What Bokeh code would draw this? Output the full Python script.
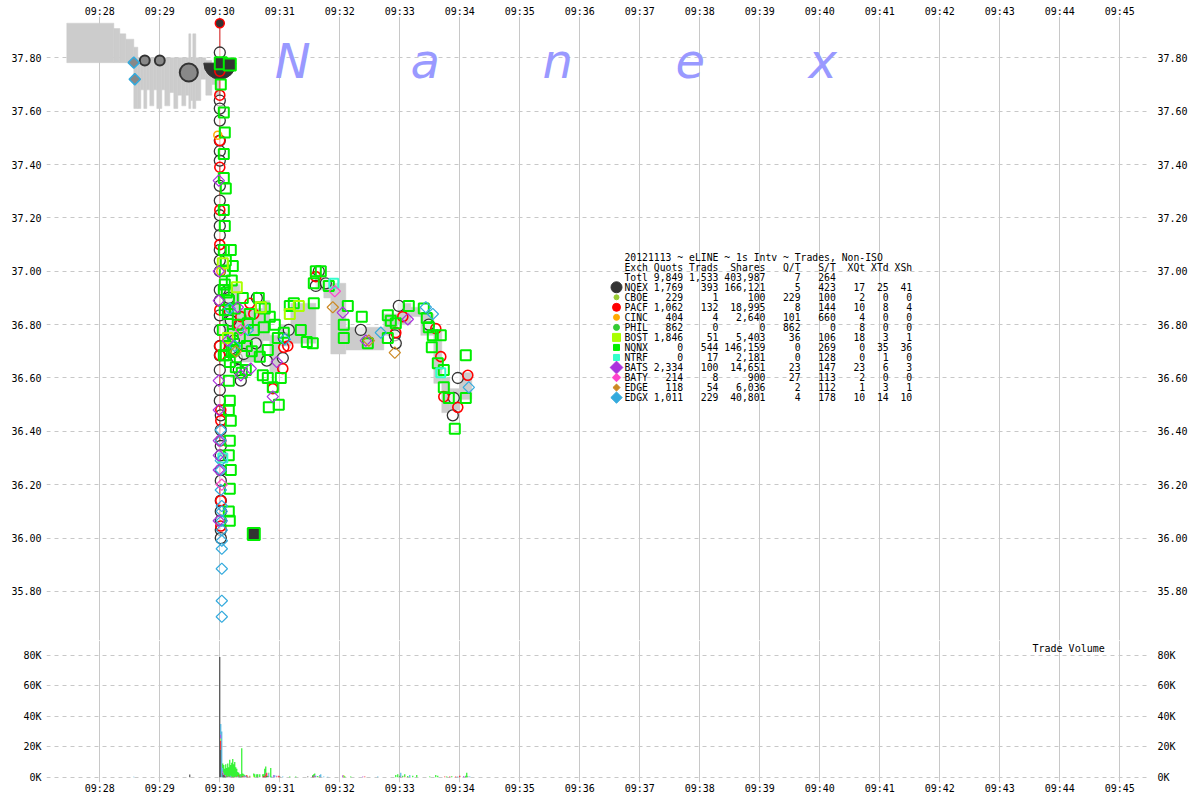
import numpy as np
from bokeh.plotting import figure
from bokeh.layouts import column
from bokeh.models import Range1d, FixedTicker, LinearAxis, Label, ColumnDataSource
from bokeh.core.properties import value
from bokeh.embed import file_html
from bokeh.resources import INLINE

# ---------------- axis ticks / labels ----------------
# x values: seconds relative to 09:30:00
minute_ticks = [-120, -60, 0, 60, 120, 180, 240, 300, 360, 420, 480, 540, 600, 660, 720, 780, 840, 900]
minute_labels = ["09:28", "09:29", "09:30", "09:31", "09:32", "09:33", "09:34", "09:35", "09:36",
                 "09:37", "09:38", "09:39", "09:40", "09:41", "09:42", "09:43", "09:44", "09:45"]
price_ticks = [35.8, 36.0, 36.2, 36.4, 36.6, 36.8, 37.0, 37.2, 37.4, 37.6, 37.8]
price_labels = ["35.80", "36.00", "36.20", "36.40", "36.60", "36.80", "37.00", "37.20", "37.40", "37.60", "37.80"]
vol_ticks = [0, 20000, 40000, 60000, 80000]
vol_labels = ["0K", "20K", "40K", "60K", "80K"]

# ---------------- NBBO spread (gray) ----------------
pre_t = [-153, -106, -100, -94, -86, -82, -79, -76, -73, -70, -66, -63, -58, -55, -50, -46, -42, -38, -34, -31,
         -29, -27, -24, -19, -14, -8, -4]
pre_bid = [37.782, 37.782, 37.782, 37.782, 37.61, 37.61, 37.68, 37.61, 37.68, 37.62, 37.68, 37.61, 37.68, 37.62,
           37.67, 37.61, 37.66, 37.62, 37.66, 37.61, 37.64, 37.61, 37.64, 37.72, 37.66, 37.70, 37.66]
pre_ask = [37.93, 37.91, 37.89, 37.87, 37.84, 37.80, 37.80, 37.80, 37.80, 37.80, 37.80, 37.80, 37.80, 37.80,
           37.80, 37.80, 37.80, 37.80, 37.80, 37.89, 37.80, 37.89, 37.80, 37.80, 37.79, 37.78, 37.78]
post_t = [3, 20, 43, 50, 60, 71, 96, 104, 111, 126, 164, 178, 191, 201, 214, 222, 230, 240]
post_bid = [36.70, 36.66, 36.74, 36.62, 36.72, 36.73, 36.93, 36.90, 36.69, 36.705, 36.76, 36.80, 36.83, 36.76,
            36.58, 36.47, 36.48, 36.52]
post_ask = [36.95, 36.86, 36.89, 36.76, 36.80, 36.88, 36.99, 36.97, 36.955, 36.79, 36.84, 36.88, 36.865, 36.84,
            36.78, 36.60, 36.56, 36.62]
post_end = 252

# ---------------- trades by exchange ----------------
nqex_t = [0, 0, 0, 0, 0, 0, 0, 0, 0, 0,
          0, 0, 0, 0, 0, 0, 0, 0, 0, 0,
          0, 0, 0, 0, 1, 1, 1, 1, 1, 1,
          1, 1, 1, 1, 1,
          9, 11, 14, 17, 19, 21, 24, 36, 37, 47,
          63, 64, 69, 96, 99, 106, 141, 175, 176, 179,
          209, 233, 234, 238]
nqex_p = [37.82, 37.64, 37.61, 37.565, 37.49, 37.45, 37.415, 37.32, 37.265, 37.21,
          37.17, 37.135, 37.08, 37.04, 37.00, 36.93, 36.89, 36.835, 36.78, 36.72,
          36.685, 36.63, 36.555, 36.515, 36.46, 36.405, 36.345, 36.31, 36.255, 36.215,
          36.14, 36.10, 36.065, 36.03, 36.00,
          36.90, 36.815, 36.74, 36.675, 36.63, 36.59, 36.69, 36.73, 36.90, 36.665,
          36.675, 36.75, 36.78, 36.945, 37.00, 36.955, 36.78, 36.76, 36.73, 36.87,
          36.80, 36.46, 36.525, 36.60]

pacf_t = [0, 0, 0, 0, 0, 0, 0, 0, 0, 1, 1, 1, 1, 1,
          19, 21, 30, 34, 53, 63, 64, 68, 96, 176, 183, 216, 221, 224, 238, 248]
pacf_p = [37.75, 37.66, 37.49, 37.39, 37.23, 37.10, 36.855, 36.72, 36.685, 36.48, 36.44, 36.365, 36.14, 36.045,
          36.80, 36.83, 36.88, 36.84, 36.56, 36.635, 36.715, 36.72, 36.98, 36.77, 36.83, 36.785, 36.68, 36.53,
          36.49, 36.61]

nqnx_t = [1, 4, 5, 4, 4, 6, 4, 5, 4, 6,
          5, 4, 5, 3, 6, 4, 9, 10, 9, 11,
          10, 9, 11, 10, 9, 10,
          8, 13, 14, 11, 13, 12, 9, 6, 28, 34,
          44, 48, 48, 53, 49, 41, 58, 61, 64, 81,
          93, 74, 26, 43, 59, 70, 87, 39, 96, 101,
          94, 109, 94, 128, 142, 124, 124, 148, 168, 171,
          168, 176, 189, 204, 207, 213, 221, 212, 218, 224,
          224, 229, 246, 246, 235, 209,
          5, 7, 10, 12, 15, 16, 18, 20, 22, 23, 27, 30, 32, 40, 45, 50, 55]
nqnx_p = [37.70, 37.595, 37.52, 37.44, 37.35, 37.31, 37.23, 37.17, 37.08, 37.04,
          37.00, 36.93, 36.855, 36.78, 36.72, 36.685, 36.59, 36.515, 36.48, 36.44,
          36.365, 36.31, 36.255, 36.185, 36.10, 36.065,
          36.84, 36.765, 36.705, 37.08, 37.02, 36.965, 36.89, 36.685, 36.805, 36.78,
          36.79, 36.705, 36.60, 36.565, 36.49, 36.865, 36.75, 36.60, 36.77, 36.78,
          36.73, 36.88, 36.63, 36.61, 36.50, 36.87, 36.735, 36.90, 37.00, 37.00,
          36.955, 36.945, 36.88, 36.87, 36.83, 36.80, 36.75, 36.73, 36.835, 36.815,
          36.75, 36.805, 36.87, 36.86, 36.825, 36.76, 36.76, 36.715, 36.655, 36.63,
          36.565, 36.525, 36.685, 36.525, 36.41, 36.79,
          36.95, 36.92, 36.66, 36.70, 36.86, 36.64, 36.80, 36.75, 36.62, 36.90, 36.72, 36.84, 36.70, 36.68,
          36.86, 36.83, 36.80]

bost_t = [3, 8, 17, 41, 70, 79]
bost_p = [37.03, 36.75, 36.94, 36.865, 36.84, 36.87]

edgx_t = [1, 1, 1, 1, 1, 2, 2, 2, 2, 2, 2, 2, 2, 2, 206, 213, 161, 249, 15, 65, 10, 28]
edgx_p = [36.405, 36.365, 36.29, 36.255, 36.18, 36.12, 36.10, 36.065, 36.03, 35.99, 35.96, 35.885, 35.765,
          35.705, 36.865, 36.84, 36.77, 36.565, 36.72, 36.745, 36.86, 36.78]

bats_t = [-1, -1, -1, -1, -1, -1, -1, -1, -1, 123, 188, 146, 31, 53, 21, 8, 57, 18]
bats_p = [37.34, 37.00, 36.89, 36.59, 36.48, 36.365, 36.31, 36.255, 36.065, 36.845, 36.82, 36.74, 36.635,
          36.53, 36.61, 36.74, 36.66, 36.865]

baty_t = [115, 21, 2]
baty_p = [36.925, 36.78, 36.20]
edge_t = [113, 149, 175, 16]
edge_p = [36.865, 36.74, 36.695, 36.70]
ntrf_t = [114, 221, 3]
ntrf_p = [36.955, 36.62, 36.30]
cinc_t = [-2, 1]
cinc_p = [37.51, 37.00]

# pre-open / opening prints
nqex_pre_t = [-75, -60, -31]
nqex_pre_p = [37.79, 37.79, 37.745]
nqex_pre_shares = [100, 100, 1500]
edgx_pre_t = [-86, -85]
edgx_pre_p = [37.782, 37.72]
open_cross_t = [0]
open_cross_p = [37.78]
high_print_t = [0]
high_print_p = [37.93]
open_range = [37.93, 36.00]
nqnx_dark_t = [1, 10, 34]
nqnx_dark_p = [37.78, 37.775, 36.015]

# ---------------- volume by exchange (shares per second) ----------------
nqex_vt = [-30, 0, 1, 3, 4, 5, 6, 8, 10, 14, 17, 19, 21, 24, 27, 38, 44, 46, 47, 60, 88, 93, 96, 180, 248]
nqex_vv = [1800, 79000, 18000, 2000, 1500, 1000, 500, 500, 500, 500, 500, 500, 500, 500, 500, 500, 1000, 500,
           1000, 500, 500, 1000, 500, 500, 500]
pacf_vt = [1, 3, 5, 8, 12, 16, 19, 23, 25, 27, 28, 30, 43, 45, 46, 47, 57, 59, 94, 100, 145, 185, 225, 230, 236, 240]
pacf_vv = [6000, 1000, 500, 500, 500, 500, 1000, 1000, 500, 1000, 500, 500, 500, 1000, 1500, 2000, 500, 1000,
           500, 500, 500, 500, 500, 500, 500, 1000]
bost_vt = [1, 34, 124]
bost_vv = [1500, 1000, 1500]
bats_vt = [1, 3, 4, 6, 9, 21, 25, 46, 49, 54, 57, 95, 123, 143, 181, 244]
bats_vv = [2500, 1000, 500, 500, 500, 500, 500, 1000, 1000, 1500, 500, 1500, 1200, 500, 500, 800]
edgx_vt = [-86, 1, 2, 3, 4, 6, 11, 18, 24, 26, 49, 52, 55, 63, 96, 100, 101, 104, 108, 158, 181, 190, 238, 250]
edgx_vv = [300, 7000, 30000, 2000, 1000, 500, 1000, 500, 500, 1000, 1500, 500, 1200, 500, 500, 1000, 2000, 500,
           300, 400, 2500, 1500, 500, 500]
nqnx_vt = [3, 4, 5, 6, 7, 8, 9, 10, 11, 12, 13, 14, 15, 16, 17, 18, 19, 20, 21, 22, 23, 24, 25,
           30, 34, 35, 37, 38, 40, 43, 44, 45, 46, 48, 49, 51,
           70, 76, 93, 94, 95, 98, 125, 131,
           176, 178, 180, 183, 185, 188, 193, 197,
           210, 216, 218, 227, 232, 246, 247]
nqnx_vv = [3000, 5000, 4000, 7000, 6000, 8000, 6000, 11000, 7000, 9000, 12000, 8000, 10000, 6000, 5000, 3000,
           1500, 2000, 1000, 19000, 1500, 1000, 500,
           500, 1500, 2000, 2000, 1500, 2000, 1500, 1000, 4500, 4000, 1000, 500, 6000,
           400, 500, 500, 1500, 1000, 800, 600, 400,
           1500, 2000, 500, 1000, 1500, 800, 1000, 1500,
           500, 1500, 1000, 500, 700, 1000, 3000]

# ---------------- summary table ----------------
table_title = "20121113 ~ eLINE ~ 1s Intv ~ Trades, Non-ISO"
exch_names = ["NQEX", "CBOE", "PACF", "CINC", "PHIL", "BOST", "NQNX", "NTRF", "BATS", "BATY", "EDGE", "EDGX"]
exch_quots = [1769, 229, 1062, 404, 862, 1846, 0, 0, 2334, 214, 118, 1011]
exch_trads = [393, 1, 132, 4, 0, 51, 544, 17, 100, 8, 54, 229]
exch_shares = [166121, 100, 18995, 2640, 0, 5403, 146159, 2181, 14651, 900, 6036, 40801]
exch_qt = [5, 229, 8, 101, 862, 36, 0, 0, 23, 27, 2, 4]
exch_st = [423, 100, 144, 660, 0, 106, 269, 128, 147, 113, 112, 178]
exch_xqt = [17, 2, 10, 4, 8, 18, 0, 0, 23, 2, 1, 10]
exch_xtd = [25, 0, 8, 0, 0, 3, 35, 1, 6, 0, 3, 14]
exch_xsh = [41, 0, 4, 0, 0, 1, 36, 0, 3, 0, 1, 10]
total_row = [9849, 1533, 403987, 7, 264]

# ---------------- styles ----------------
FONT = "DejaVu Sans Mono"
GRID = "#c8c8c8"
C_NQEX, C_PACF, C_NQNX, C_BOST = "#333333", "#ff0000", "#00ee00", "#aaff00"
C_BATS, C_BATY, C_EDGE, C_EDGX = "#aa33dd", "#ff44cc", "#cc8822", "#33aadd"
C_NTRF, C_CINC, C_CBOE, C_PHIL = "#33ffcc", "#ffaa00", "#99cc33", "#33cc33"

W = 1192
xr = Range1d(-173.3, 930.7)


def style_axis(ax, ticks, labels, standoff):
    ax.ticker = FixedTicker(ticks=ticks)
    ax.major_label_overrides = dict(zip(ticks, labels))
    ax.axis_line_color = None
    ax.major_tick_line_color = None
    ax.minor_tick_line_color = None
    ax.major_tick_in = 0
    ax.major_tick_out = 0
    ax.major_label_standoff = standoff
    ax.major_label_text_font = FONT
    ax.major_label_text_font_size = "10px"
    ax.major_label_text_color = "black"


# ================= price panel =================
p1 = figure(width=W, height=640, x_range=xr, y_range=Range1d(35.616, 37.955),
            output_backend="svg", toolbar_location=None, x_axis_location="above",
            min_border_left=46, min_border_right=42, min_border_top=16, min_border_bottom=0,
            outline_line_color=None, background_fill_color="white", border_fill_color="white")
style_axis(p1.xaxis[0], minute_ticks, minute_labels, 0)
style_axis(p1.yaxis[0], price_ticks, price_labels, 5)
ax_r = LinearAxis()
style_axis(ax_r, price_ticks, price_labels, 7)
p1.add_layout(ax_r, "right")
p1.xgrid.grid_line_color = GRID
p1.ygrid.grid_line_color = GRID
p1.ygrid.grid_line_dash = "4 4"

# watermark
for i, ch in enumerate("Nanex"):
    p1.add_layout(Label(x=73 + 132.5 * i, y=37.79, text=ch, text_font="DejaVu Sans",
                        text_font_style="italic", text_font_size="48px", text_color="#9999ff",
                        text_align="center", text_baseline="alphabetic", level="underlay"))

# spread areas
pre_right = pre_t[1:] + [0]
p1.quad(left=pre_t, right=pre_right, bottom=pre_bid, top=pre_ask, fill_color="#cccccc",
        line_color="#cccccc", line_width=0.5)
post_right = post_t[1:] + [post_end]
p1.quad(left=post_t, right=post_right, bottom=post_bid, top=post_ask, fill_color="#cccccc",
        line_color="#cccccc", line_width=0.5)

# opening range line
p1.segment(x0=open_cross_t, y0=[open_range[0]], x1=open_cross_t, y1=[open_range[1]],
           line_color="#e06060", line_width=1.5)

# opening cross (half disc)
p1.wedge(x=open_cross_t, y=open_cross_p, radius=16, radius_units="screen",
         start_angle=np.pi, end_angle=2 * np.pi, direction="anticlock",
         fill_color=C_NQEX, line_color=C_NQEX)

# pre-open prints
pre_sizes = [7 + np.sqrt(s) / 3.5 for s in nqex_pre_shares]
p1.scatter(nqex_pre_t, nqex_pre_p, marker="circle", size=pre_sizes, fill_color="#888888",
           line_color=C_NQEX, line_width=2)
p1.scatter(edgx_pre_t, edgx_pre_p, marker="square", angle=np.pi / 4, size=8, fill_color="#888888",
           line_color=C_EDGX, line_width=1.5)

# trades
p1.scatter(nqex_t, nqex_p, marker="circle", size=11, fill_color="white", fill_alpha=0.6,
           line_color=C_NQEX, line_width=1.3)
p1.scatter(pacf_t, pacf_p, marker="circle", size=10, fill_color=None, line_color=C_PACF, line_width=1.6)
p1.scatter(cinc_t, cinc_p, marker="circle", size=8, fill_color=None, line_color=C_CINC, line_width=1.5)
p1.scatter(nqnx_t, nqnx_p, marker="square", size=10, fill_color=None, line_color=C_NQNX, line_width=2)
p1.scatter(bost_t, bost_p, marker="square", size=10, fill_color=None, line_color=C_BOST, line_width=2)
p1.scatter(ntrf_t, ntrf_p, marker="square", size=9, fill_color=None, line_color=C_NTRF, line_width=2)
for xs, ys, col in [(edgx_t, edgx_p, C_EDGX), (bats_t, bats_p, C_BATS), (baty_t, baty_p, C_BATY),
                    (edge_t, edge_p, C_EDGE)]:
    p1.scatter(xs, ys, marker="square", angle=np.pi / 4, size=8, fill_color=None, line_color=col,
               line_width=1.2)
p1.scatter(nqnx_dark_t, nqnx_dark_p, marker="square", size=12, fill_color=C_NQEX, line_color=C_NQNX,
           line_width=2)
p1.scatter(high_print_t, high_print_p, marker="circle", size=9, fill_color=C_NQEX, line_color=C_PACF,
           line_width=1.5)

# summary table text (non-breaking spaces keep the columns aligned in SVG)
lines = [table_title,
         "Exch Quots Trads  Shares   Q/T   S/T  XQt XTd XSh",
         f"Totl{total_row[0]:>6,}{total_row[1]:>6,}{total_row[2]:>8,}{total_row[3]:>6}{total_row[4]:>6}"]
for i in range(len(exch_names)):
    lines.append(f"{exch_names[i]:<4}{exch_quots[i]:>6,}{exch_trads[i]:>6,}{exch_shares[i]:>8,}"
                 f"{exch_qt[i]:>6}{exch_st[i]:>6}{exch_xqt[i]:>5}{exch_xtd[i]:>4}{exch_xsh[i]:>4}")
lines = [s.replace(" ", "\u00a0") for s in lines]
tab_x0 = 404.7
tab_y0 = 37.0528
tab_dy = 0.03759
tab_y = [tab_y0 - tab_dy * i for i in range(len(lines))]
p1.text(x=[tab_x0] * len(lines), y=tab_y, text=lines, text_font=value(FONT),
        text_font_size=value("9.75px"), text_baseline="middle", text_align="left", text_color="black")

leg_style = [("circle", 11, C_NQEX, C_NQEX, 0), ("circle", 5, C_CBOE, C_CBOE, 0),
             ("circle", 8, C_PACF, C_PACF, 0), ("circle", 6, C_CINC, C_CINC, 0),
             ("circle", 6, C_PHIL, C_PHIL, 0), ("square", 8, C_BOST, C_BOST, 0),
             ("square", 6, C_NQNX, C_NQNX, 0), ("square", 6, C_NTRF, C_NTRF, 0),
             ("square", 9, C_BATS, C_BATS, np.pi / 4), ("square", 6, C_BATY, C_BATY, np.pi / 4),
             ("square", 5, C_EDGE, C_EDGE, np.pi / 4), ("square", 8, C_EDGX, C_EDGX, np.pi / 4)]
for i, (mk, sz, fc, lc, ang) in enumerate(leg_style):
    p1.scatter([tab_x0 - 8], [tab_y[3 + i]], marker=mk, size=sz, fill_color=fc, line_color=lc, angle=ang)

# ================= volume panel =================
p2 = figure(width=W, height=158, x_range=xr, y_range=Range1d(-3485, 89870),
            output_backend="svg", toolbar_location=None, x_axis_location="below",
            min_border_left=46, min_border_right=42, min_border_top=0, min_border_bottom=16,
            outline_line_color=None, background_fill_color="white", border_fill_color="white")
style_axis(p2.xaxis[0], minute_ticks, minute_labels, 0)
style_axis(p2.yaxis[0], vol_ticks, vol_labels, 5)
ax_r2 = LinearAxis()
style_axis(ax_r2, vol_ticks, vol_labels, 7)
p2.add_layout(ax_r2, "right")
p2.xgrid.grid_line_color = GRID
p2.ygrid.grid_line_color = GRID
p2.ygrid.grid_line_dash = "4 4"

vol_names = ["NQEX", "PACF", "BOST", "BATS", "EDGX", "NQNX"]
vol_colors = [C_NQEX, C_PACF, C_BOST, C_BATS, C_EDGX, C_NQNX]
vol_lists = [(nqex_vt, nqex_vv), (pacf_vt, pacf_vv), (bost_vt, bost_vv), (bats_vt, bats_vv),
             (edgx_vt, edgx_vv), (nqnx_vt, nqnx_vv)]
all_t = sorted(set(t for ts, _ in vol_lists for t in ts))
vdata = {"t": all_t}
for name, (ts, vs) in zip(vol_names, vol_lists):
    m = dict(zip(ts, vs))
    vdata[name] = [m.get(t, 0) for t in all_t]
p2.vbar_stack(vol_names, x="t", width=1.0, color=vol_colors, line_color=None,
              source=ColumnDataSource(vdata))
p2.add_layout(Label(x=812.7, y=84600, text="Trade Volume", text_font=FONT, text_font_size="10px",
                    text_color="black", text_baseline="middle", text_align="left"))

layout = column(p1, p2, spacing=0)
open("out.html", "w").write(file_html(layout, INLINE))
